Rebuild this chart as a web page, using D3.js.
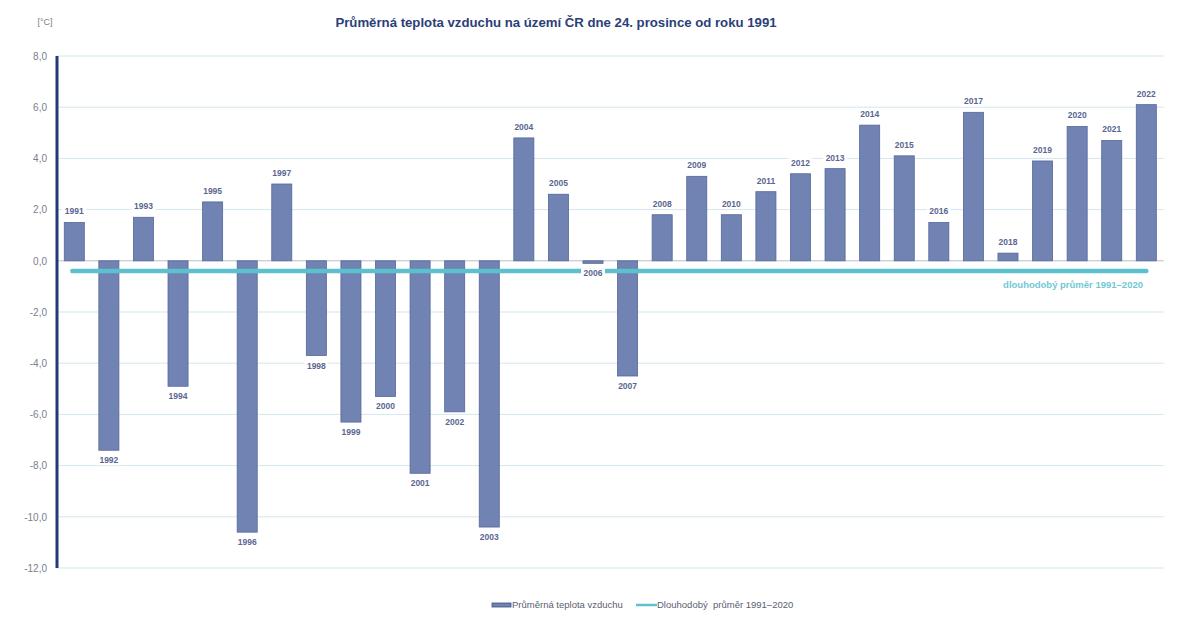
<!DOCTYPE html>
<html><head><meta charset="utf-8">
<script src="https://cdn.jsdelivr.net/npm/d3@7"></script>
<style>body{margin:0;background:#fff;}svg{display:block;font-family:"Liberation Sans",Arial,sans-serif;}</style>
</head><body>
<script>
const years = [1991,1992,1993,1994,1995,1996,1997,1998,1999,2000,2001,2002,2003,2004,2005,2006,2007,2008,2009,2010,2011,2012,2013,2014,2015,2016,2017,2018,2019,2020,2021,2022];
const temps = [1.5,-7.4,1.7,-4.9,2.3,-10.6,3.0,-3.7,-6.3,-5.3,-8.3,-5.9,-10.4,4.8,2.6,-0.1,-4.5,1.8,3.3,1.8,2.7,3.4,3.6,5.3,4.1,1.5,5.8,0.3,3.9,5.25,4.7,6.1];
const longTermMean = -0.4;
const yTicks = [8,6,4,2,0,-2,-4,-6,-8,-10,-12];
const title = "Průměrná teplota vzduchu na území ČR dne 24. prosince od roku 1991";
const unitLabel = "[°C]";
const meanLabel = "dlouhodobý průměr 1991–2020";
const legendBar = "Průměrná teplota vzduchu";
const legendLine = "Dlouhodobý  průměr 1991–2020";

const W = 1200, H = 639;
const L = 57, R = 1163.6, T = 56, B = 568;
const svg = d3.select("body").append("svg").attr("width", W).attr("height", H);

const x = d3.scaleBand().domain(years).range([L, R]).paddingInner(0.42).paddingOuter(0.21);
const y = d3.scaleLinear().domain([-12, 8]).range([B, T]);
const fmt = v => d3.format(".1f")(v).replace(".", ",").replace("−", "-");

// gridlines
svg.append("g").selectAll("line").data(yTicks).join("line")
  .attr("x1", L).attr("x2", R).attr("y1", d => y(d)).attr("y2", d => y(d))
  .attr("stroke", d => d === 0 ? "#b9bcc4" : "#d3e7ee").attr("stroke-width", 1);

// y tick labels
const yAxis = d3.axisLeft(y).tickValues(yTicks).tickFormat(fmt).tickSize(0).tickPadding(10);
const ya = svg.append("g").attr("transform", `translate(${L},0)`).call(yAxis);
ya.select(".domain").remove();
ya.selectAll("text").attr("fill", "#7a7f8c").attr("font-size", 10);

// bars
svg.append("g").selectAll("rect").data(years).join("rect")
  .attr("x", d => x(d)).attr("width", x.bandwidth())
  .attr("y", (d, i) => y(Math.max(0, temps[i])))
  .attr("height", (d, i) => Math.abs(y(temps[i]) - y(0)))
  .attr("fill", "#7083b3").attr("stroke", "#56679a").attr("stroke-width", 0.8);

// mean line
const xm0 = x(years[0]) + x.bandwidth() * 0.4;
const xm1 = x(years[years.length - 1]) + x.bandwidth() * 0.5;
svg.append("line").attr("x1", xm0).attr("x2", xm1)
  .attr("y1", y(longTermMean)).attr("y2", y(longTermMean))
  .attr("stroke", "#5cc1cd").attr("stroke-width", 4.5).attr("stroke-linecap", "round");

// year labels with white background
const lab = svg.append("g").selectAll("g").data(years).join("g")
  .attr("transform", (d, i) => {
    const cx = x(d) + x.bandwidth() / 2;
    const v = temps[i];
    const yy = v >= 0 ? y(v) - 8 : y(v) + 13;
    return `translate(${cx},${yy})`;
  });
lab.append("rect").attr("x", -12).attr("y", -8).attr("width", 24).attr("height", 10).attr("fill", "#fff");
lab.append("text").attr("text-anchor", "middle").attr("font-size", 8.5).attr("font-weight", "bold")
  .attr("fill", "#5a6690").text(d => d);

// y axis line
svg.append("line").attr("x1", L).attr("x2", L).attr("y1", T).attr("y2", B)
  .attr("stroke", "#23397a").attr("stroke-width", 3);

// unit
svg.append("text").attr("x", 45).attr("y", 25).attr("text-anchor", "middle")
  .attr("font-size", 9).attr("fill", "#7a7f8c").text(unitLabel);

// title
svg.append("text").attr("x", 556).attr("y", 27).attr("text-anchor", "middle")
  .attr("font-size", 13.2).attr("font-weight", "bold").attr("fill", "#2b3f78").text(title);

// mean label
svg.append("text").attr("x", 1143).attr("y", 288).attr("text-anchor", "end")
  .attr("font-size", 9.5).attr("font-weight", "bold").attr("fill", "#72c8d2").text(meanLabel);

// legend
const lg = svg.append("g");
lg.append("rect").attr("x", 492).attr("y", 603).attr("width", 19).attr("height", 4)
  .attr("fill", "#7083b3").attr("stroke", "#3f4f84").attr("stroke-width", 0.8);
lg.append("text").attr("x", 512).attr("y", 608).attr("font-size", 9.5).attr("fill", "#5a6070").text(legendBar);
lg.append("line").attr("x1", 636).attr("x2", 657).attr("y1", 605).attr("y2", 605)
  .attr("stroke", "#5cc1cd").attr("stroke-width", 2.5);
lg.append("text").attr("x", 657).attr("y", 608).attr("font-size", 9.5).attr("fill", "#5a6070")
  .attr("xml:space", "preserve").style("white-space", "pre").text(legendLine);
</script>
</body></html>
